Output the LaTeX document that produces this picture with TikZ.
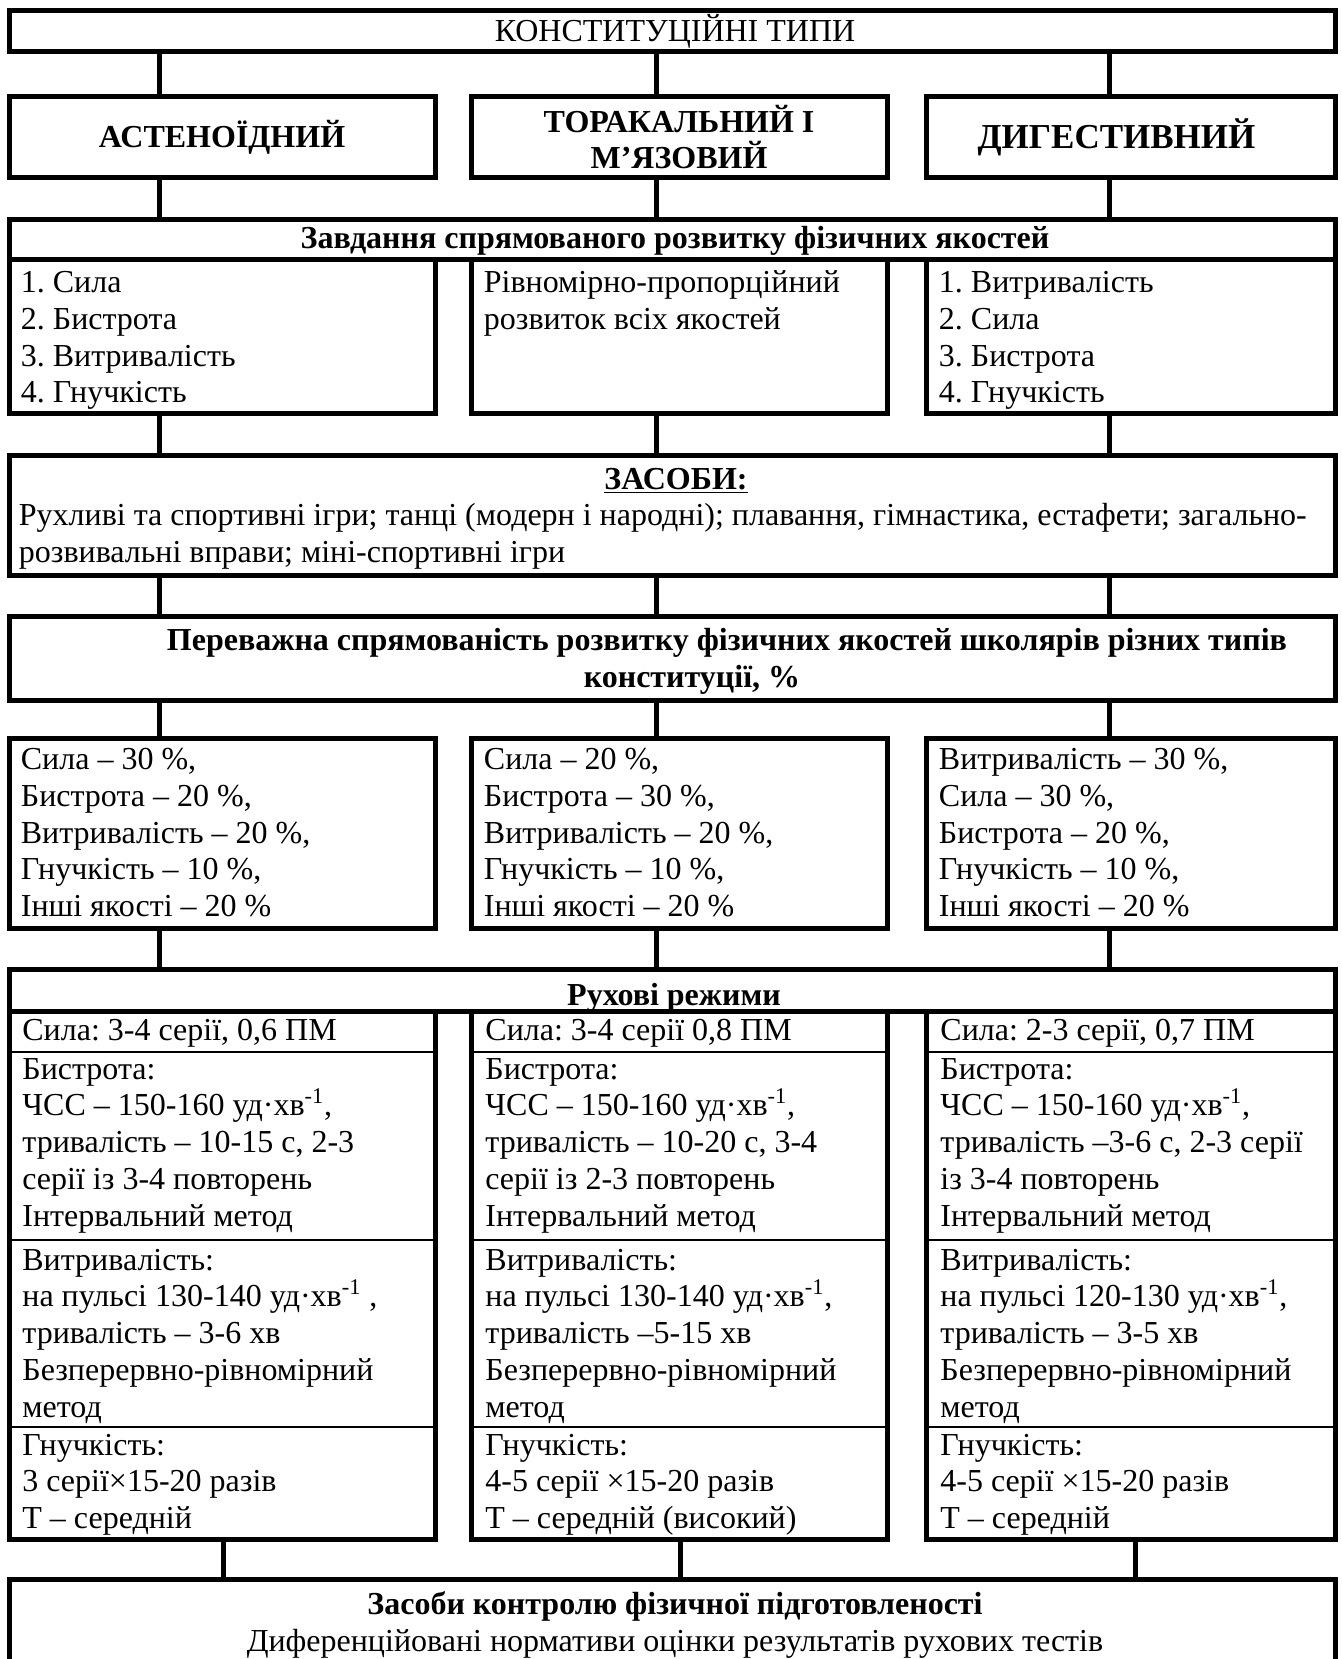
\documentclass[tikz,border=0pt]{standalone}
\usepackage{fontspec}
\setmainfont{Liberation Serif}
\usetikzlibrary{positioning, fit, calc}
\frenchspacing

\begin{document}
\begin{tikzpicture}[
    x=0.5pt, y=-0.5pt,
    frame/.style={rectangle, draw, line width=2.5pt, inner sep=0pt},
    cell/.style={rectangle, draw, line width=1pt, inner sep=0pt},
    head/.style={align=center, inner sep=0pt, font=\fontsize{16}{18.4}\selectfont\bfseries},
    kind/.style={align=center, inner sep=0pt, font=\fontsize{16}{18}\selectfont\bfseries},
    plain/.style={align=center, inner sep=0pt, font=\fontsize{16}{18.4}\selectfont},
    txt/.style={anchor=base west, inner sep=0pt, text width=215pt, align=flush left,
                font=\fontsize{16}{18.4}\selectfont},
    link/.style={line width=2.5pt}
]
\useasboundingbox (0,0) rectangle (1342,1659);

% connector columns
\coordinate (u1) at (159,0);
\coordinate (u2) at (656,0);
\coordinate (u3) at (1109,0);
\coordinate (d1) at (223,0);
\coordinate (d2) at (680,0);
\coordinate (d3) at (1135,0);

% types
\node[frame, fit={(9,11) (1335,52)}] (top) {};
\node[plain] (topT) at ([shift={(3,0)}]top.center) {КОНСТИТУЦІЙНІ ТИПИ};
\node[frame, fit={(9,97) (435,177)}] (ast) {};
\node[frame, fit={(471,97) (887,177)}] (tor) {};
\node[frame, fit={(926,97) (1335,177)}] (dig) {};
\node[kind] (astT) at (ast.center) {АСТЕНОЇДНИЙ};
\node[kind] (torT) at (tor.center) {ТОРАКАЛЬНИЙ І\\М’ЯЗОВИЙ};
\node[kind, font=\fontsize{17.5}{18}\selectfont\bfseries] (digT) at ([shift={(-14,0)}]dig.center) {ДИГЕСТИВНИЙ};

% tasks
\node[frame, fit={(9,219) (1335,259)}] (zav) {};
\node[head] (zavT) at ([shift={(3,2)}]zav.center) {Завдання спрямованого розвитку фізичних якостей};
\node[frame, fit={(9,259) (435,413)}] (zA) {};
\node[frame, fit={(471,259) (887,413)}] (zB) {};
\node[frame, fit={(926,259) (1335,413)}] (zC) {};
\node[txt] (zAt) at ([shift={(14,36)}]zA.north west) {1. Сила\\2. Бистрота\\3. Витривалість\\4. Гнучкість};
\node[txt] (zBt) at ([shift={(15,36)}]zB.north west) {Рівномірно-пропорційний\\розвиток всіх якостей};
\node[txt] (zCt) at ([shift={(15,36)}]zC.north west) {1. Витривалість\\2. Сила\\3. Бистрота\\4. Гнучкість};

% means
\node[frame, fit={(9,455) (1335,575)}] (zas) {};
\node[head] (zasH) at (676,481) {\underline{ЗАСОБИ:}};
\node[txt, text width=660pt] (zasT) at ([shift={(12,73)}]zas.north west) {Рухливі та спортивні ігри; танці (модерн і народні); плавання, гімнастика, естафети; загально-\\розвивальні вправи; міні-спортивні ігри};

% shares
\node[frame, fit={(9,616) (1335,700)}] (per) {};
\node[head] (perH) at (692,661) {\hspace*{35pt}Переважна спрямованість розвитку фізичних якостей школярів різних типів\\конституції, \%};
\node[frame, fit={(9,738) (435,928)}] (pA) {};
\node[frame, fit={(471,738) (887,928)}] (pB) {};
\node[frame, fit={(926,738) (1335,928)}] (pC) {};
\node[txt] (pAt) at ([shift={(14,34)}]pA.north west) {Сила – 30 \%,\\Бистрота – 20 \%,\\Витривалість – 20 \%,\\Гнучкість – 10 \%,\\Інші якості – 20 \%};
\node[txt] (pBt) at ([shift={(15,34)}]pB.north west) {Сила – 20 \%,\\Бистрота – 30 \%,\\Витривалість – 20 \%,\\Гнучкість – 10 \%,\\Інші якості – 20 \%};
\node[txt] (pCt) at ([shift={(15,34)}]pC.north west) {Витривалість – 30 \%,\\Сила – 30 \%,\\Бистрота – 20 \%,\\Гнучкість – 10 \%,\\Інші якості – 20 \%};

% regimes
\node[frame, fit={(9,969) (1335,1011)}] (ruh) {};
\node[head] (ruhH) at ([shift={(2,8)}]ruh.center) {Рухові режими};

\node[cell, fit={(9,1011) (435,1052)}] (rA1) {};
\node[cell, fit={(9,1052) (435,1240)}] (rA2) {};
\node[cell, fit={(9,1240) (435,1427)}] (rA3) {};
\node[cell, fit={(9,1427) (435,1539)}] (rA4) {};
\node[frame, fit={(9,1011) (435,1539)}] (rA) {};

\node[cell, fit={(471,1011) (887,1052)}] (rB1) {};
\node[cell, fit={(471,1052) (887,1240)}] (rB2) {};
\node[cell, fit={(471,1240) (887,1427)}] (rB3) {};
\node[cell, fit={(471,1427) (887,1539)}] (rB4) {};
\node[frame, fit={(471,1011) (887,1539)}] (rB) {};

\node[cell, fit={(926,1011) (1335,1052)}] (rC1) {};
\node[cell, fit={(926,1052) (1335,1240)}] (rC2) {};
\node[cell, fit={(926,1240) (1335,1427)}] (rC3) {};
\node[cell, fit={(926,1427) (1335,1539)}] (rC4) {};
\node[frame, fit={(926,1011) (1335,1539)}] (rC) {};

\node[txt] (rA1t) at ([shift={(14,30)}]rA1.north west) {Сила: 3-4 серії, 0,6 ПМ};
\node[txt] (rA2t) at ([shift={(14,28)}]rA2.north west) {Бистрота:\\ЧСС – 150-160 уд·хв\textsuperscript{-1},\\тривалість – 10-15 с, 2-3\\серії із 3-4 повторень\\Інтервальний метод};
\node[txt] (rA3t) at ([shift={(14,31)}]rA3.north west) {Витривалість:\\на пульсі 130-140 уд·хв\textsuperscript{-1} ,\\тривалість – 3-6 хв\\Безперервно-рівномірний\\метод};
\node[txt] (rA4t) at ([shift={(14,29)}]rA4.north west) {Гнучкість:\\3 серії×15-20 разів\\Т – середній};

\node[txt] (rB1t) at ([shift={(15,30)}]rB1.north west) {Сила: 3-4 серії 0,8 ПМ};
\node[txt] (rB2t) at ([shift={(15,28)}]rB2.north west) {Бистрота:\\ЧСС – 150-160 уд·хв\textsuperscript{-1},\\тривалість – 10-20 с, 3-4\\серії із 2-3 повторень\\Інтервальний метод};
\node[txt] (rB3t) at ([shift={(15,31)}]rB3.north west) {Витривалість:\\на пульсі 130-140 уд·хв\textsuperscript{-1},\\тривалість –5-15 хв\\Безперервно-рівномірний\\метод};
\node[txt] (rB4t) at ([shift={(15,29)}]rB4.north west) {Гнучкість:\\4-5 серії ×15-20 разів\\Т – середній (високий)};

\node[txt] (rC1t) at ([shift={(15,30)}]rC1.north west) {Сила: 2-3 серії, 0,7 ПМ};
\node[txt] (rC2t) at ([shift={(15,28)}]rC2.north west) {Бистрота:\\ЧСС – 150-160 уд·хв\textsuperscript{-1},\\тривалість –3-6 с, 2-3 серії\\із 3-4 повторень\\Інтервальний метод};
\node[txt] (rC3t) at ([shift={(15,31)}]rC3.north west) {Витривалість:\\на пульсі 120-130 уд·хв\textsuperscript{-1},\\тривалість – 3-5 хв\\Безперервно-рівномірний\\метод};
\node[txt] (rC4t) at ([shift={(15,29)}]rC4.north west) {Гнучкість:\\4-5 серії ×15-20 разів\\Т – середній};

% control
\node[frame, fit={(9,1579) (1335,1700)}] (ctl) {};
\node[plain] (ctlT) at (675,1625) {{\bfseries Засоби контролю фізичної підготовленості}\\Диференційовані нормативи оцінки результатів рухових тестів};

% connectors
\draw[link] (top.south -| u1) -- (ast.north -| u1);
\draw[link] (top.south -| u2) -- (tor.north -| u2);
\draw[link] (top.south -| u3) -- (dig.north -| u3);
\draw[link] (ast.south -| u1) -- (zav.north -| u1);
\draw[link] (tor.south -| u2) -- (zav.north -| u2);
\draw[link] (dig.south -| u3) -- (zav.north -| u3);
\draw[link] (zA.south -| u1) -- (zas.north -| u1);
\draw[link] (zB.south -| u2) -- (zas.north -| u2);
\draw[link] (zC.south -| u3) -- (zas.north -| u3);
\draw[link] (zas.south -| u1) -- (per.north -| u1);
\draw[link] (zas.south -| u2) -- (per.north -| u2);
\draw[link] (zas.south -| u3) -- (per.north -| u3);
\draw[link] (per.south -| u1) -- (pA.north -| u1);
\draw[link] (per.south -| u2) -- (pB.north -| u2);
\draw[link] (per.south -| u3) -- (pC.north -| u3);
\draw[link] (pA.south -| u1) -- (ruh.north -| u1);
\draw[link] (pB.south -| u2) -- (ruh.north -| u2);
\draw[link] (pC.south -| u3) -- (ruh.north -| u3);
\draw[link] (rA.south -| d1) -- (ctl.north -| d1);
\draw[link] (rB.south -| d2) -- (ctl.north -| d2);
\draw[link] (rC.south -| d3) -- (ctl.north -| d3);
\end{tikzpicture}
\end{document}
